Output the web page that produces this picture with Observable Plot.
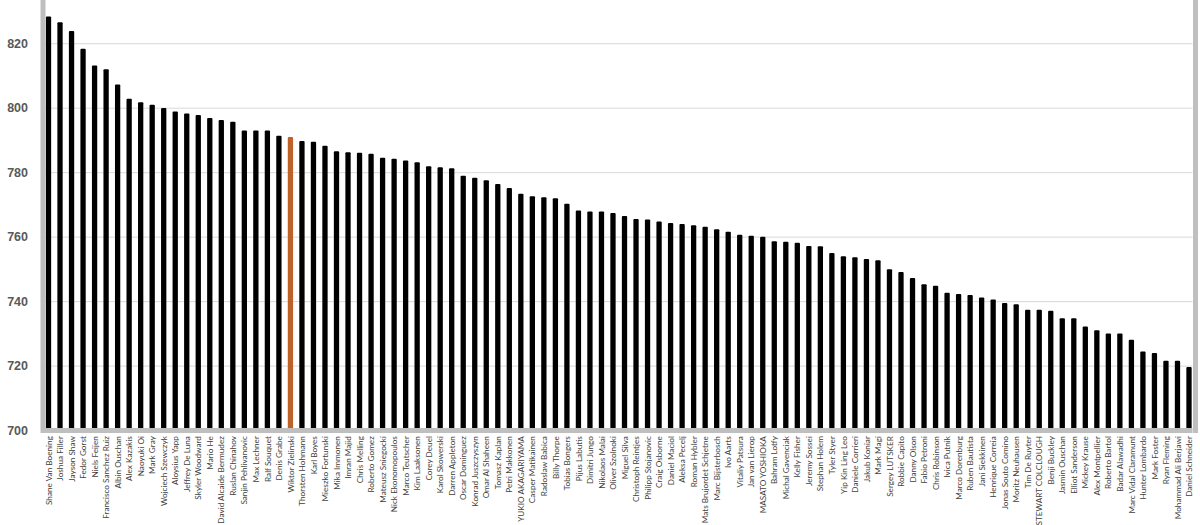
<!DOCTYPE html>
<html>
<head>
<meta charset="utf-8">
<script src="https://cdn.jsdelivr.net/npm/d3@7"></script>
<script src="https://cdn.jsdelivr.net/npm/@observablehq/plot@0.6"></script>
<style>
  html, body { margin: 0; padding: 0; background: #ffffff; }
  #chart svg { display: block; }
</style>
</head>
<body>
<div id="chart"></div>
<script>
const players = [
  "Shane Van Boening", "Joshua Filler", "Jayson Shaw", "Fedor Gorst", "Niels Feijen",
  "Francisco Sanchez Ruiz", "Albin Ouschan", "Alex Kazakis", "Naoyuki Oi", "Mark Gray",
  "Wojciech Szewczyk", "Aloysius Yapp", "Jeffrey De Luna", "Skyler Woodward", "Mario He",
  "David Alcaide Bermudez", "Ruslan Chinahov", "Sanjin Pehlivanovic", "Max Lechner", "Ralf Souquet",
  "Denis Grabe", "Wiktor Zielinski", "Thorsten Hohmann", "Karl Boyes", "Mieszko Fortunski",
  "Mika Immonen", "Imran Majid", "Chris Melling", "Roberto Gomez", "Mateusz Sniegocki",
  "Nick Ekonomopoulos", "Marco Teutscher", "Kim Laaksonen", "Corey Deuel", "Karol Skowerski",
  "Darren Appleton", "Oscar Dominguez", "Konrad Juszczyszyn", "Omar Al Shaheen", "Tomasz Kaplan",
  "Petri Makkonen", "YUKIO AKAGARIYAMA", "Casper Matikainen", "Radoslaw Babica", "Billy Thorpe",
  "Tobias Bongers", "Pijus Labutis", "Dimitri Jungo", "Nikolaos Malai", "Oliver Szolnoki",
  "Miguel Silva", "Christoph Reintjes", "Philipp Stojanovic", "Craig Osborne", "Daniel Maciol",
  "Aleksa Pecelj", "Roman Hybler", "Mats Brujordet Schjetne", "Marc Bijsterbosch", "Ivo Aarts",
  "Vitaliy Patsura", "Jan van Lierop", "MASATO YOSHIOKA", "Bahram Lotfy", "Michal Gavenciak",
  "Kelly Fisher", "Jeremy Sossei", "Stephan Holem", "Tyler Styer", "Yip Kin Ling Leo",
  "Daniele Corrieri", "Jakub Koniar", "Mark Magi", "Sergey LUTSKER", "Robbie Capito",
  "Danny Olson", "Fabio Petroni", "Chris Robinson", "Ivica Putnik", "Marco Dorenburg",
  "Ruben Bautista", "Jani Siekkinen", "Henrique Correia", "Jonas Souto Comino", "Moritz Neuhausen",
  "Tim De Ruyter", "STEWART COLCLOUGH", "Benji Buckley", "Jasmin Ouschan", "Elliot Sanderson",
  "Mickey Krause", "Alex Montpellier", "Roberto Bartol", "Badar Alawadhi", "Marc Vidal Claramunt",
  "Hunter Lombardo", "Mark Foster", "Ryan Fleming", "Mohammad Ali Berjawi", "Daniel Schneider"
];

const ratings = [
  828.3, 826.5, 823.8, 818.3, 813.1,
  811.9, 807.2, 802.8, 801.7, 800.9,
  799.9, 798.8, 798.2, 797.7, 796.8,
  796.2, 795.6, 792.9, 792.9, 792.9,
  791.3, 790.9, 789.7, 789.4, 788.2,
  786.5, 786.2, 786.0, 785.7, 784.5,
  784.2, 783.6, 783.1, 781.8, 781.5,
  781.2, 778.9, 778.3, 777.5, 776.3,
  775.1, 773.3, 772.5, 772.2, 771.9,
  770.2, 768.1, 767.8, 767.8, 767.3,
  766.4, 765.5, 765.3, 764.7, 764.2,
  763.9, 763.5, 763.1, 762.3, 761.5,
  760.6, 760.3, 760.0, 758.6, 758.4,
  758.1, 757.1, 757.0, 754.9, 753.9,
  753.6, 753.1, 752.7, 749.9, 749.0,
  747.2, 745.2, 744.8, 742.6, 742.2,
  741.9, 741.1, 740.5, 739.4, 739.0,
  737.3, 737.3, 737.0, 734.7, 734.7,
  732.1, 731.0, 730.0, 730.0, 728.0,
  724.4, 723.9, 721.5, 721.5, 719.6
];

const highlighted = "Wiktor Zielinski";
const yTicks = [700, 720, 740, 760, 780, 800, 820];
const yGrid = [720, 740, 760, 780, 800, 820];
const yBase = 700;
const yTop = 833.4;

const data = players.map((name, i) => ({ name, value: ratings[i] }));

const frameGray = "#bfbfbf";
const labelFont = "Lato, 'Liberation Sans', sans-serif";

const chart = Plot.plot({
  width: 1200,
  height: 525,
  marginTop: 0,
  marginLeft: 45,
  marginRight: 7.5,
  marginBottom: 94.9,
  style: { background: "#ffffff", overflow: "visible" },
  x: { domain: players, paddingInner: 0.54, paddingOuter: 0.074, label: null },
  y: { domain: [yBase, yTop], label: null },
  marks: [
    Plot.ruleY(yGrid, { stroke: "#d9d9d9", strokeWidth: 1 }),
    Plot.barY(data, {
      x: "name",
      y1: yBase,
      y2: "value",
      fill: d => d.name === highlighted ? "#bf6229" : "#000000",
      rx: 1
    }),
    Plot.ruleY([yBase], { stroke: frameGray, strokeWidth: 5 }),
    Plot.frame({ anchor: "left", stroke: frameGray, strokeWidth: 5, dx: -2.5 }),
    Plot.frame({ anchor: "right", stroke: frameGray, strokeWidth: 5, dx: 2.5 }),
    Plot.axisY(yTicks, {
      tickSize: 0,
      tickPadding: 17.5,
      fontSize: 12.5,
      fontWeight: "bold",
      fill: "#595959",
      fontFamily: "'Liberation Sans', Arial, sans-serif",
      label: null
    }),
    Plot.axisX({
      tickSize: 0,
      tickPadding: 5.5,
      tickRotate: -90,
      fontSize: 8.2,
      fill: "#404040",
      fontFamily: labelFont,
      label: null
    })
  ]
});

document.getElementById("chart").appendChild(chart);
</script>
</body>
</html>
